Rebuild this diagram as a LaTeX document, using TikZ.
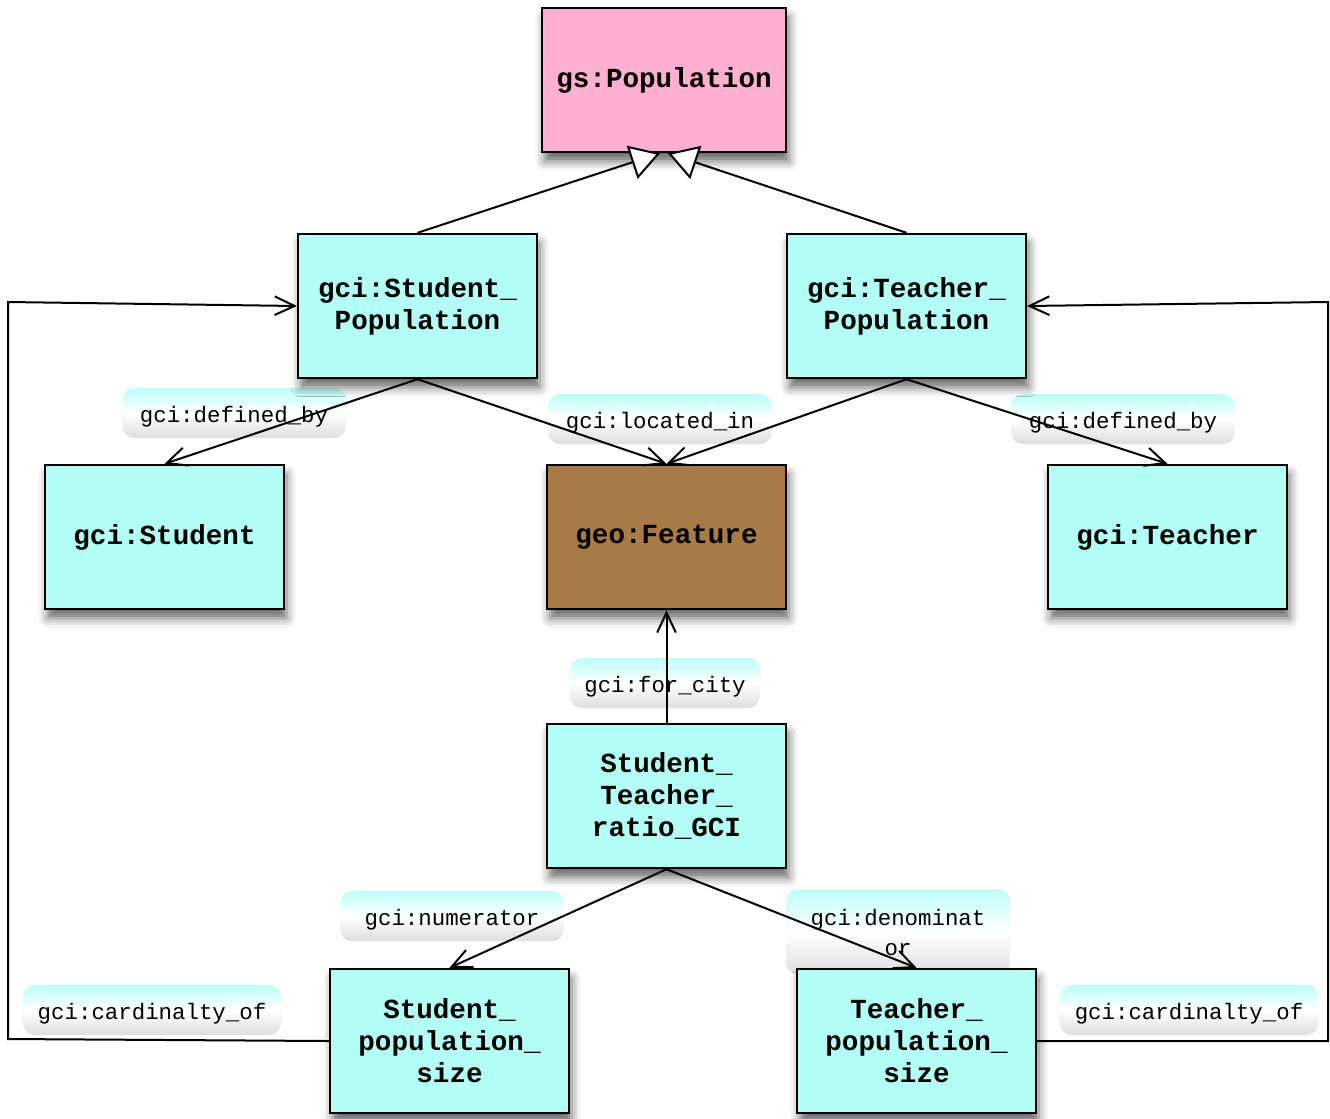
\documentclass[tikz,border=0pt]{standalone}
\usepackage{fontspec}
\setmonofont{Liberation Mono}
\usetikzlibrary{arrows.meta,shadows.blur,calc}
\definecolor{boxcyan}{HTML}{B3FFF5}
\definecolor{boxpink}{HTML}{FFAFCF}
\definecolor{boxbrown}{HTML}{A87A45}
\definecolor{tagtop}{HTML}{BDFFF9}
\definecolor{tagbot}{HTML}{DEDEDE}
\begin{document}
\begin{tikzpicture}[x=0.75pt,y=-0.75pt,
  cls/.style={draw=black, line width=1.8pt, minimum width=179pt, minimum height=108pt,
    inner sep=0pt, align=center, fill=boxcyan,
    font=\ttfamily\bfseries\fontsize{20.7}{24}\selectfont,
    blur shadow={shadow xshift=2pt, shadow yshift=-7pt, shadow blur radius=7pt, shadow opacity=60}},
  tag/.style={rounded corners=9pt, minimum width=168pt, minimum height=37.5pt,
    top color=tagtop, bottom color=tagbot, middle color=white, inner sep=0pt, align=center,
    font=\ttfamily\fontsize{16.8}{22.5}\selectfont},
  tagline/.style={tag, text height=14pt, text depth=0pt},
  link/.style={line width=1.5pt, -{Straight Barb[length=15pt,width=14pt,line width=1.5pt]}},
  isa/.style={line width=1.5pt, -{Triangle[open,fill=white,length=22pt,width=26pt,line width=1.5pt]}}]
\useasboundingbox (0,0) rectangle (1330,1118);

% relation tags (behind everything)
\node[tagline] (t1) at (234,413) {gci:defined\_by};
\node[tagline] (t2) at (660,419) {gci:located\_in};
\node[tagline] (t3) at (1123,419) {gci:defined\_by};
\node[tagline, minimum width=142.5pt] (t4) at (665,683) {gci:for\_city};
\node[tagline] (t5) at (452,916) {gci:numerator};
\node[tag, minimum height=64pt] (t6) at (898,932) {gci:denominat\\or};
\node[tagline, minimum width=194pt] (t7) at (152,1010) {gci:cardinalty\_of};
\node[tagline, minimum width=194pt] (t8) at (1189,1010) {gci:cardinalty\_of};

% classes
\node[cls, fill=boxpink, minimum width=183pt] (pop) at (664,80) {gs:Population};
\node[cls] (sp) at (417.5,306) {gci:Student\_\\Population};
\node[cls] (tp) at (906.5,306) {gci:Teacher\_\\Population};
\node[cls] (stu) at (164.5,537) {gci:Student};
\node[cls, fill=boxbrown] (feat) at (666.5,537) {geo:Feature};
\node[cls] (tea) at (1167.5,537) {gci:Teacher};
\node[cls] (ratio) at (666.5,796) {Student\_\\Teacher\_\\ratio\_GCI};
\node[cls] (sps) at (449.5,1041) {Student\_\\population\_\\size};
\node[cls] (tps) at (916.5,1041) {Teacher\_\\population\_\\size};

% corners of the two cardinality loops
\coordinate (lb) at (8,1039);
\coordinate (lt) at (8,302);
\coordinate (rb) at (1328,1041);
\coordinate (rt) at (1328,302);

% subclass links
\draw[isa] (sp.north) -- ($(pop.south)+(-4,0)$);
\draw[isa] (tp.north) -- ($(pop.south)+(4,0)$);

% properties
\draw[link] (sp.south) -- (stu.north);
\draw[link] (sp.south) -- (feat.north);
\draw[link] (tp.south) -- (feat.north);
\draw[link] (tp.south) -- (tea.north);
\draw[link] (ratio.north) -- (feat.south);
\draw[link] (ratio.south) -- (sps.north);
\draw[link] (ratio.south) -- (tps.north);
\draw[link] (sps.west) -- (lb) -- (lt) -- (sp.west);
\draw[link] (tps.east) -- (rb) -- (rt) -- (tp.east);
\end{tikzpicture}
\end{document}
